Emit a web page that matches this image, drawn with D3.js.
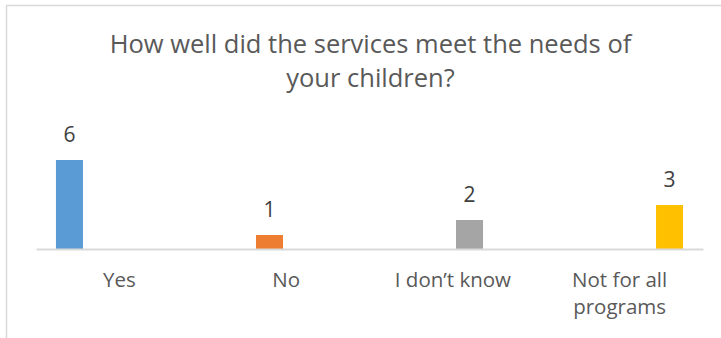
<!DOCTYPE html>
<html>
<head>
<meta charset="utf-8">
<script src="https://cdn.jsdelivr.net/npm/d3@7/dist/d3.min.js"></script>
<style>
  html, body { margin: 0; padding: 0; background: #fff; }
  svg { display: block; }
  text { font-family: "Open Sans", Lato, "DejaVu Sans", sans-serif; }
</style>
</head>
<body>
<svg id="chart" width="721" height="338"></svg>
<script>
// Survey responses: one series per answer, clustered under each category
const titleLines = ["How well did the services meet the needs of", "your children?"];
const categories = ["Yes", "No", "I don\u2019t know", "Not for all programs"];
const seriesNames = ["Yes", "No", "I don\u2019t know", "Not for all programs"];
const seriesValues = [6, 1, 2, 3];
const seriesColors = ["#5B9BD5", "#ED7D31", "#A5A5A5", "#FFC000"];
const yMax = 7;

const svg = d3.select("#chart");
const W = 721, H = 338;
const plot = { left: 36, right: 703, top: 145, bottom: 250 };

// Chart area frame
svg.append("rect")
  .attr("x", 6.5).attr("y", 5.5)
  .attr("width", W + 10).attr("height", H + 10)
  .attr("fill", "#fff")
  .attr("stroke", "#d9d9d9").attr("stroke-width", 1.5);

// Title
const title = svg.append("text")
  .attr("text-anchor", "middle")
  .attr("fill", "#595959")
  .attr("font-size", 25.5);
titleLines.forEach((line, i) => {
  title.append("tspan").attr("x", 370.5).attr("y", 53 + i * 34).text(line);
});

// Scales
const x0 = d3.scaleBand().domain(categories).range([plot.left, plot.right]).padding(0);
const x1 = d3.scaleBand().domain(seriesNames).range([0, x0.bandwidth()])
  .paddingInner(0.188).paddingOuter(0.6);
const y = d3.scaleLinear().domain([0, yMax]).range([plot.bottom, plot.top]);

// Bars: each series only has a value in its own category
const rows = seriesNames.map((s, i) => ({
  series: s, category: categories[i], value: seriesValues[i], color: seriesColors[i]
}));

const g = svg.append("g");
g.selectAll("rect.bar").data(rows).join("rect")
  .attr("class", "bar")
  .attr("x", d => x0(d.category) + x1(d.series))
  .attr("width", x1.bandwidth())
  .attr("y", d => y(d.value))
  .attr("height", d => y(0) - y(d.value))
  .attr("fill", d => d.color);

// Data labels
g.selectAll("text.val").data(rows).join("text")
  .attr("class", "val")
  .attr("x", d => x0(d.category) + x1(d.series) + x1.bandwidth() / 2)
  .attr("y", d => y(d.value) - 18)
  .attr("text-anchor", "middle")
  .attr("fill", "#404040")
  .attr("font-size", 21)
  .text(d => d.value);

// Category axis
const xAxis = svg.append("g")
  .attr("transform", `translate(0,${y(0) - 1})`)
  .call(d3.axisBottom(x0).tickSize(0).tickPadding(0));
xAxis.select(".domain").attr("stroke", "#d9d9d9").attr("stroke-width", 2);

// Wrap category labels to the band width
xAxis.selectAll(".tick text").each(function (d) {
  const t = d3.select(this);
  t.text(null)
    .attr("fill", "#595959")
    .attr("font-size", 20.5)
    .attr("font-family", "'Open Sans', Lato, sans-serif")
    .attr("y", 0).attr("dy", null);
  const words = d.split(/\s+/);
  const maxW = x0.bandwidth() - 4;
  let lines = [], cur = [];
  let probe = t.append("tspan");
  words.forEach(w => {
    const test = cur.concat([w]).join(" ");
    probe.text(test);
    if (probe.node().getComputedTextLength() > maxW && cur.length) {
      lines.push(cur.join(" "));
      cur = [w];
    } else {
      cur.push(w);
    }
  });
  lines.push(cur.join(" "));
  probe.remove();
  lines.forEach((ln, i) => {
    t.append("tspan").attr("x", 0).attr("y", 37.7 + i * 27.5).text(ln);
  });
});
</script>
</body>
</html>
